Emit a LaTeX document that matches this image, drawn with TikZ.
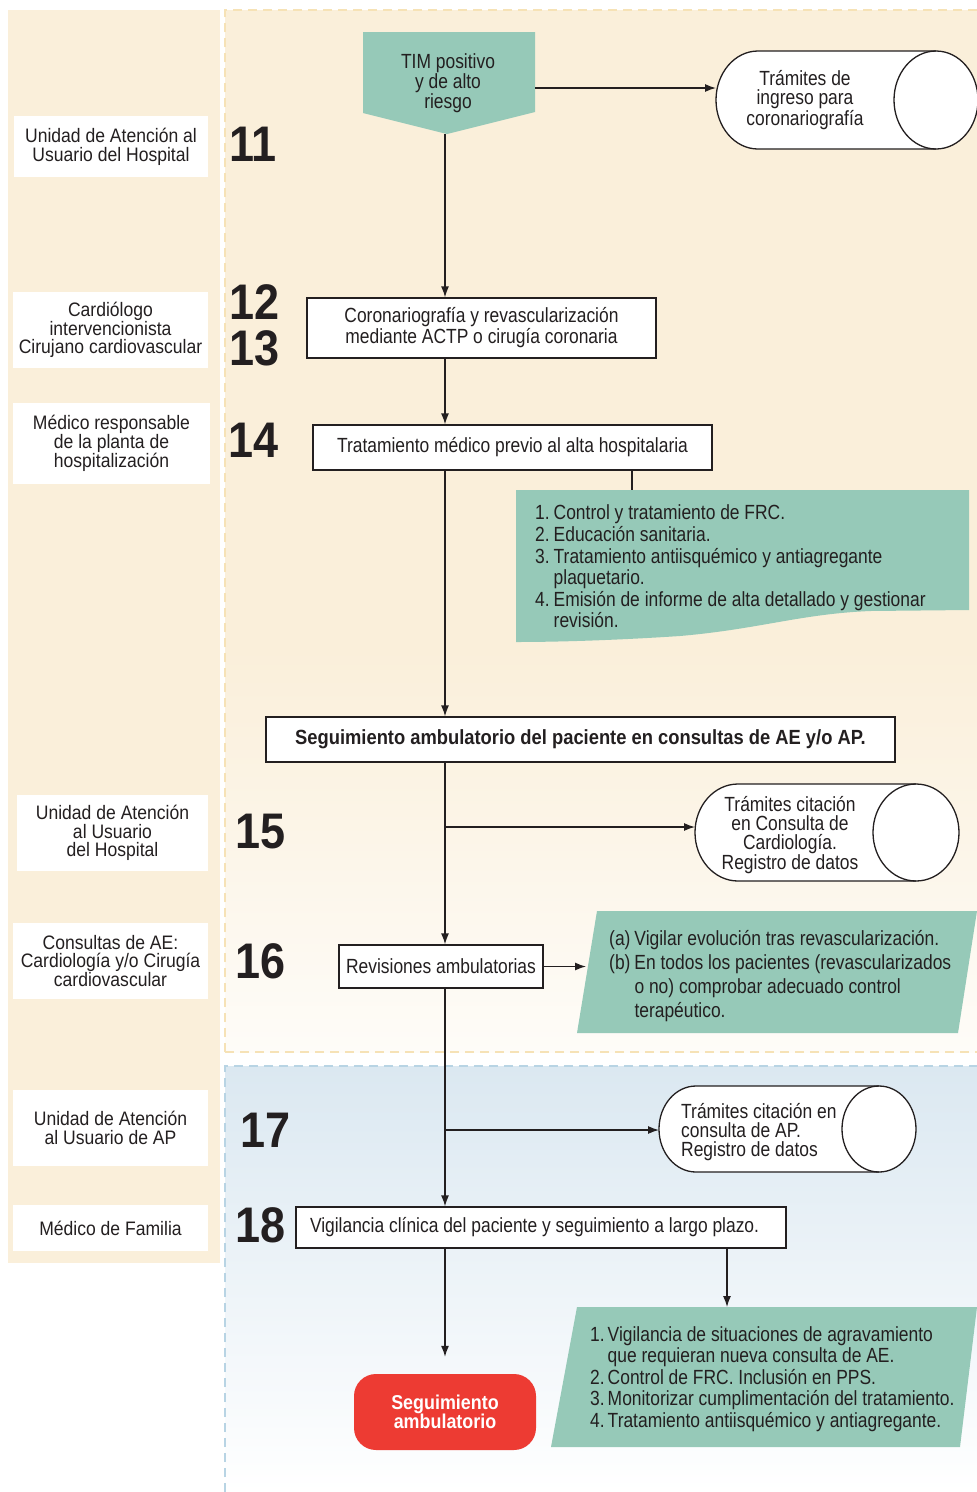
\documentclass[tikz,border=0pt]{standalone}
\usepackage{fontspec}
\setmainfont{Liberation Sans}[FakeStretch=0.85]
\newfontfamily\labfont{Liberation Sans}[FakeStretch=0.9]
\newfontfamily\numfont{Liberation Sans}[FakeStretch=0.9]
\newfontfamily\boldnarrow{Liberation Sans}[FakeStretch=0.895]
\usetikzlibrary{arrows.meta,calc}
\definecolor{beige}{RGB}{250,239,218}
\definecolor{beigelight}{RGB}{254,252,248}
\definecolor{beigeline}{RGB}{246,226,182}
\definecolor{tealfill}{RGB}{150,201,184}
\definecolor{bluebg}{RGB}{219,232,241}
\definecolor{blueline}{RGB}{184,212,228}
\definecolor{redfill}{RGB}{237,59,51}
\definecolor{ink}{RGB}{35,31,32}
\pgfdeclarelayer{back}
\pgfdeclarelayer{mid}
\pgfsetlayers{back,mid,main}
\tikzset{
  lab/.style={fill=white, font=\labfont\fontsize{19.5}{18.8}\selectfont, align=center, text=ink, inner sep=0pt},
  num/.style={font=\numfont\bfseries\fontsize{50}{50}\selectfont, text=ink, inner sep=0pt},
  box/.style={draw=ink, line width=1.3pt, fill=white, font=\fontsize{20.5}{21}\selectfont, text=ink, align=center, inner sep=0pt},
  txt/.style={font=\fontsize{20.5}{19}\selectfont, text=ink, align=center, inner sep=0pt},
  notetxt/.style={font=\fontsize{20.5}{21.5}\selectfont, text=ink, inner sep=0pt, anchor=west},
  arr/.style={draw=ink, line width=1.3pt, -{Latex[length=11pt,width=8pt]}},
  ln/.style={draw=ink, line width=1.3pt},
  cylline/.style={draw=ink, line width=1.3pt, fill=white},
  redbox/.style={fill=redfill, rounded corners=22pt, text=white, font=\boldnarrow\bfseries\fontsize{20}{19.5}\selectfont, align=center, inner sep=0pt, minimum width=182pt, minimum height=76pt},
  secdash/.style={dash pattern=on 9pt off 6pt, line width=1.3pt}
}
\begin{document}
\begin{tikzpicture}[x=1pt,y=-1pt]
\useasboundingbox (0,0) rectangle (977,1492);
% ---------- backgrounds ----------
\begin{pgfonlayer}{back}
  \fill[white] (0,0) rectangle (977,1492);
  \fill[beige] (8,10) rectangle (220,1263);
  \fill[beige] (225,10) rectangle (977,650);
  \shade[top color=beige, bottom color=beigelight] (225,649) rectangle (977,1052);
  \draw[beigeline, secdash] (225,1052) -- (225,10) -- (977,10);
  \draw[beigeline, secdash] (225,1052) -- (977,1052);
  \shade[top color=bluebg, bottom color=white] (225,1066) rectangle (977,1492);
  \draw[blueline, secdash] (225,1492) -- (225,1066) -- (977,1066);
\end{pgfonlayer}
% ---------- left labels ----------
\node[lab, minimum width=194pt, minimum height=61pt] (l1) at (111,146.5) {Unidad de Atención al\\Usuario del Hospital};
\node[lab, minimum width=195pt, minimum height=76pt] (l2) at (110.5,330) {Cardiólogo\\intervencionista\\Cirujano cardiovascular};
\node[lab, minimum width=197pt, minimum height=81pt] (l3) at (111.5,443.5) {Médico responsable\\de la planta de\\hospitalización};
\node[lab, minimum width=191pt, minimum height=76pt] (l4) at (112.5,833) {Unidad de Atención\\al Usuario\\del Hospital};
\node[lab, minimum width=195pt, minimum height=76pt] (l5) at (110.5,961) {Consultas de AE:\\Cardiología y/o Cirugía\\cardiovascular};
\node[lab, minimum width=195pt, minimum height=76pt] (l6) at (110.5,1128) {Unidad de Atención\\al Usuario de AP};
\node[lab, minimum width=195pt, minimum height=46pt] (l7) at (110.5,1228) {Médico de Familia};
% ---------- step numbers ----------
\node[num] (s11) at (253,144) {11};
\node[num] (s12) at (255,302) {12};
\node[num] (s13) at (255,348) {13};
\node[num] (s14) at (254,440) {14};
\node[num] (s15) at (261,832) {15};
\node[num] (s16) at (261,961) {16};
\node[num] (s17) at (266,1130) {17};
\node[num] (s18) at (261,1225) {18};
% ---------- TIM pentagon ----------
\begin{pgfonlayer}{mid}
  \fill[tealfill] (363,32) -- (535,32) -- (535,112) -- (447,134) -- (363,113) -- cycle;
\end{pgfonlayer}
\node[txt, minimum width=172pt, minimum height=98pt] (tim) at (448,83) {TIM positivo\\y de alto\\riesgo};
\coordinate (timtip) at (445,134);
\coordinate (timR) at (535,88);
% ---------- cylinder 1 ----------
\draw[cylline] (758,51) -- (936,51) arc[start angle=-90,end angle=90,x radius=42,y radius=49]
   -- (758,149) arc[start angle=90,end angle=270,x radius=42,y radius=49] -- cycle;
\draw[ink, line width=1.3pt] (936,51) arc[start angle=-90,end angle=-270,x radius=42,y radius=49];
\node[txt] (c1) at (805,100) {Trámites de\\ingreso para\\coronariografía};
\coordinate (c1w) at (716,88);
% ---------- boxes ----------
\node[box, minimum width=349pt, minimum height=60pt] (cor) at (481.5,328) {Coronariografía y revascularización\\mediante ACTP o cirugía coronaria};
\node[box, minimum width=399pt, minimum height=45pt] (trat) at (512.5,447.5) {Tratamiento médico previo al alta hospitalaria};
% note 1
\begin{pgfonlayer}{mid}
  \fill[tealfill] (516,490) -- (969,490) -- (969,610) -- (870,611)
     .. controls (800,614) and (760,629) .. (680,636)
     .. controls (620,640) and (560,642) .. (516,642) -- cycle;
\end{pgfonlayer}
\node[notetxt] (n1) at (535,569.5) {\begin{tabular}{@{}r@{\hspace{4pt}}l@{}}
1. & Control y tratamiento de FRC.\\
2. & Educación sanitaria.\\
3. & Tratamiento antiisquémico y antiagregante\\
   & plaquetario.\\
4. & Emisión de informe de alta detallado y gestionar\\
   & revisión.
\end{tabular}};
\coordinate (n1top) at (632,490);
\node[box, minimum width=629pt, minimum height=45pt, font=\boldnarrow\bfseries\fontsize{20.5}{21}\selectfont] (seg) at (580.5,739.5) {Seguimiento ambulatorio del paciente en consultas de AE y/o AP.};
% ---------- cylinder 2 ----------
\draw[cylline] (738,784) -- (916,784) arc[start angle=-90,end angle=90,x radius=43,y radius=48.5]
   -- (738,881) arc[start angle=90,end angle=270,x radius=43,y radius=48.5] -- cycle;
\draw[ink, line width=1.3pt] (916,784) arc[start angle=-90,end angle=-270,x radius=43,y radius=48.5];
\node[txt] (c2) at (790,835) {Trámites citación\\en Consulta de\\Cardiología.\\Registro de datos};
\coordinate (c2w) at (695,827);
% ---------- revisiones ----------
\node[box, minimum width=204pt, minimum height=43pt] (rev) at (441,966.5) {Revisiones ambulatorias};
\begin{pgfonlayer}{mid}
  \fill[tealfill] (597,911) -- (977,911) -- (958,1033) -- (577,1033) -- cycle;
\end{pgfonlayer}
\node[notetxt, font=\fontsize{20.5}{24}\selectfont] (p1) at (609,977) {\begin{tabular}{@{}l@{\hspace{4pt}}l@{}}
(a) & Vigilar evolución tras revascularización.\\
(b) & En todos los pacientes (revascularizados\\
    & o no) comprobar adecuado control\\
    & terapéutico.
\end{tabular}};
\coordinate (p1w) at (586,966.5);
% ---------- cylinder 3 ----------
\draw[cylline] (696,1086) -- (879,1086) arc[start angle=-90,end angle=90,x radius=37,y radius=43]
   -- (696,1172) arc[start angle=90,end angle=270,x radius=37,y radius=43] -- cycle;
\draw[ink, line width=1.3pt] (879,1086) arc[start angle=-90,end angle=-270,x radius=37,y radius=43];
\node[txt, align=left, anchor=west] (c3) at (681,1132) {Trámites citación en\\consulta de AP.\\Registro de datos};
\coordinate (c3w) at (659,1130);
% ---------- vigilancia ----------
\node[box, minimum width=490pt, minimum height=41pt] (vig) at (541,1227.5) {\makebox[462pt][l]{Vigilancia clínica del paciente y seguimiento a largo plazo.}};
\node[redbox] (red) at (445,1412) {Seguimiento\\ambulatorio};
\begin{pgfonlayer}{mid}
  \fill[tealfill] (577,1307) -- (977,1307) -- (960,1447) -- (551,1447) -- cycle;
\end{pgfonlayer}
\node[notetxt] (p2) at (590,1380) {\begin{tabular}{@{}r@{\hspace{3pt}}l@{}}
1. & Vigilancia de situaciones de agravamiento\\
   & que requieran nueva consulta de AE.\\
2. & Control de FRC. Inclusión en PPS.\\
3. & Monitorizar cumplimentación del tratamiento.\\
4. & Tratamiento antiisquémico y antiagregante.
\end{tabular}};
\coordinate (p2top) at (727,1307);
% ---------- connectors ----------
\draw[arr] (timR) -- (c1w);
\draw[arr] (timtip) -- (timtip |- cor.north);
\draw[arr] (cor.south -| timtip) -- (trat.north -| timtip);
\draw[arr] (trat.south -| timtip) -- (seg.north -| timtip);
\draw[ln] (trat.south -| n1top) -- (n1top);
\draw[arr] (seg.south -| timtip) -- (rev.north -| timtip);
\draw[arr] (timtip |- c2w) -- (c2w);
\draw[arr] (rev.east) -- (p1w);
\draw[arr] (rev.south -| timtip) -- (vig.north -| timtip);
\draw[arr] (timtip |- c3w) -- (c3w);
\draw[arr, shorten >=17pt] (vig.south -| timtip) -- (red.north);
\draw[arr] (vig.south -| p2top) -- (p2top);
\end{tikzpicture}
\end{document}
